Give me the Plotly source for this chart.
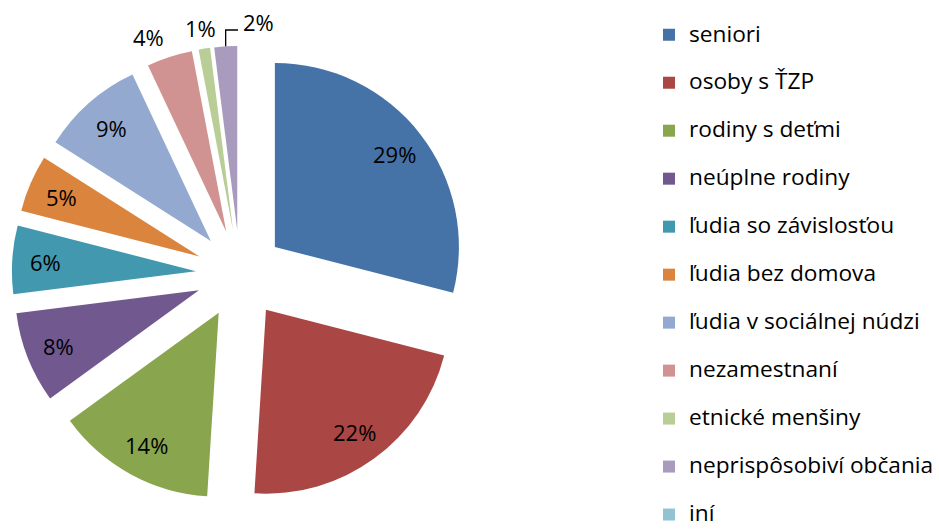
import math
import plotly.graph_objects as go

# categories and shares (percent)
labels = [
    "seniori",
    "osoby s ŤZP",
    "rodiny s deťmi",
    "neúplne rodiny",
    "ľudia so závislosťou",
    "ľudia bez domova",
    "ľudia v sociálnej núdzi",
    "nezamestnaní",
    "etnické menšiny",
    "neprispôsobiví občania",
    "iní",
]
values = [29, 22, 14, 8, 6, 5, 9, 4, 1, 2, 0]
colors = [
    "#4572A7", "#AA4643", "#89A54E", "#71588F", "#4198AF", "#DB843D",
    "#93A9CF", "#D19392", "#B9CD96", "#A99BBD", "#92C3D5",
]

W, H = 939, 529
FONT = "Open Sans"

# pie geometry in pixels: centre, radius, explode distance (fraction of radius)
CX, CY, R = 240, 274, 184
PULL = 0.24
BOX = R * (1 + PULL)
INSIDE_R = 0.82  # where the inside labels sit, from the slice tip
# thin slices at the top get their labels outside, placed like Excel's best fit
outside_pos = {7: (148, 37), 8: (200, 28), 9: (258, 22)}
leader_for = 9

# legend text: bigger span inside a two-line entry to get the wide spacing
legend_names = ["<span style='font-size:22.7px'>" + l + "</span><br> " for l in labels]

fig = go.Figure(
    go.Pie(
        labels=legend_names,
        values=values,
        sort=False,
        direction="clockwise",
        rotation=0,
        pull=PULL,
        marker=dict(colors=colors, line=dict(width=0)),
        textinfo="none",
        hovertemplate="%{percent}<extra></extra>",
        domain=dict(x=[(CX - BOX) / W, (CX + BOX) / W],
                    y=[1 - (CY + BOX) / H, 1 - (CY - BOX) / H]),
    )
)

# percentage labels
total = sum(values)
cum = 0
annotations = []
shapes = []
for i, v in enumerate(values):
    mid = 2 * math.pi * (cum + v / 2) / total
    cum += v
    if v == 0:
        continue
    if i in outside_pos:
        px, py = outside_pos[i]
    else:
        d = R * (PULL + INSIDE_R)
        px = CX + d * math.sin(mid)
        py = CY - d * math.cos(mid)
    annotations.append(dict(
        x=px / W, y=1 - py / H, xref="paper", yref="paper",
        xanchor="center", yanchor="middle", showarrow=False,
        text=f"{v / total:.0%}",
        font=dict(family=FONT, size=22, color="black"),
    ))
    if i == leader_for:
        sx = CX + BOX * math.sin(mid)
        sy = CY - BOX * math.cos(mid)
        ey = py + 8
        ex = px - 20
        shapes.append(dict(
            type="path", xref="paper", yref="paper",
            path=f"M {sx / W},{1 - sy / H} L {sx / W},{1 - ey / H} L {ex / W},{1 - ey / H}",
            line=dict(color="black", width=1.3),
        ))

fig.update_layout(
    width=W,
    height=H,
    margin=dict(l=0, r=0, t=0, b=0, autoexpand=False),
    paper_bgcolor="white",
    font=dict(family=FONT, color="black"),
    annotations=annotations,
    shapes=shapes,
    legend=dict(
        xref="container",
        yref="container",
        x=649 / W,
        xanchor="left",
        y=1 - 17 / H,
        yanchor="top",
        maxheight=1000,
        font=dict(family=FONT, size=17.3, color="black"),
        valign="top",
        traceorder="normal",
    ),
)

fig.write_html(
    "out.html",
    config={"displayModeBar": False},
    post_script="document.body.style.margin = '0';",
)
